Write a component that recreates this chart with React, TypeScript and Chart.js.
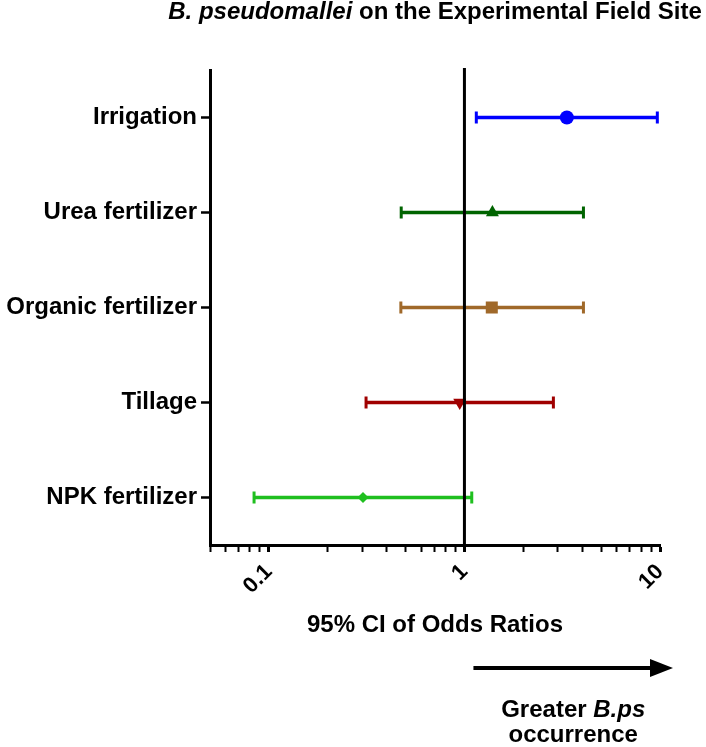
import React, { useEffect, useRef } from 'react';
import { Chart, registerables } from 'chart.js';

Chart.register(...registerables);

const categories = ['Irrigation', 'Urea fertilizer', 'Organic fertilizer', 'Tillage', 'NPK fertilizer'];
const oddsRatios = [3.34, 1.39, 1.38, 0.946, 0.303];
const ciLower = [1.15, 0.475, 0.473, 0.314, 0.084];
const ciUpper = [9.69, 4.06, 4.06, 2.85, 1.09];
const seriesColors = ['#0000ff', '#006400', '#a0692a', '#a00000', '#1fbf1f'];
const markerStyles = ['circle', 'triangle', 'rect', 'triangle', 'rectRot'];
const markerRotations = [0, 0, 0, 180, 0];
const markerRadii = [7, 7.5, 8.5, 7.5, 5.5];

const xTickValues = [0.05, 0.06, 0.07, 0.08, 0.09, 0.1, 0.2, 0.3, 0.4, 0.5, 0.6, 0.7, 0.8, 0.9, 1, 2, 3, 4, 5, 6, 7, 8, 9, 10];
const xLabeledTicks = [0.1, 1, 10];
const xMin = 0.05;
const xMax = 10;
const referenceOR = 1;

const titleItalic = 'B. pseudomallei';
const titleRest = ' on the Experimental Field Site';
const xAxisTitle = '95% CI of Odds Ratios';
const arrowLine1Plain = 'Greater ';
const arrowLine1Italic = 'B.ps';
const arrowLine2 = 'occurrence';

const FONT = "'Liberation Sans', Arial, sans-serif";

const annotationsPlugin = {
  id: 'annotations',
  afterDatasetsDraw(chart: any) {
    const { ctx, chartArea, scales } = chart;
    const x1 = scales.x.getPixelForValue(referenceOR);
    ctx.save();
    ctx.strokeStyle = '#000';
    ctx.lineWidth = 3;
    ctx.beginPath();
    ctx.moveTo(x1, chartArea.top - 2);
    ctx.lineTo(x1, chartArea.bottom);
    ctx.stroke();
    ctx.restore();
  },
  afterDraw(chart: any) {
    const { ctx, chartArea, scales } = chart;
    const cx = (chartArea.left + chartArea.right) / 2;
    ctx.save();
    ctx.fillStyle = '#000';
    ctx.textBaseline = 'alphabetic';
    ctx.textAlign = 'left';

    // Title
    ctx.font = `italic bold 24px ${FONT}`;
    const wI = ctx.measureText(titleItalic).width;
    ctx.font = `bold 24px ${FONT}`;
    const wR = ctx.measureText(titleRest).width;
    const tx = cx - (wI + wR) / 2;
    ctx.font = `italic bold 24px ${FONT}`;
    ctx.fillText(titleItalic, tx, 19);
    ctx.font = `bold 24px ${FONT}`;
    ctx.fillText(titleRest, tx + wI, 19);

    // X axis title
    ctx.textAlign = 'center';
    ctx.font = `bold 24px ${FONT}`;
    ctx.fillText(xAxisTitle, cx, chartArea.bottom + 87);

    // Arrow
    const ax0 = scales.x.getPixelForValue(referenceOR) + 9;
    const ax1 = scales.x.getPixelForValue(xMax) + 13;
    const ay = chartArea.bottom + 123;
    ctx.strokeStyle = '#000';
    ctx.lineWidth = 4;
    ctx.beginPath();
    ctx.moveTo(ax0, ay);
    ctx.lineTo(ax1 - 20, ay);
    ctx.stroke();
    ctx.beginPath();
    ctx.moveTo(ax1, ay);
    ctx.lineTo(ax1 - 23, ay - 9);
    ctx.lineTo(ax1 - 23, ay + 9);
    ctx.closePath();
    ctx.fill();

    const acx = (ax0 + ax1) / 2;
    ctx.textAlign = 'left';
    ctx.font = `bold 24px ${FONT}`;
    const wP = ctx.measureText(arrowLine1Plain).width;
    ctx.font = `italic bold 24px ${FONT}`;
    const wB = ctx.measureText(arrowLine1Italic).width;
    const sx = acx - (wP + wB) / 2;
    ctx.font = `bold 24px ${FONT}`;
    ctx.fillText(arrowLine1Plain, sx, chartArea.bottom + 172);
    ctx.font = `italic bold 24px ${FONT}`;
    ctx.fillText(arrowLine1Italic, sx + wP, chartArea.bottom + 172);
    ctx.textAlign = 'center';
    ctx.font = `bold 24px ${FONT}`;
    ctx.fillText(arrowLine2, acx, chartArea.bottom + 197);
    ctx.restore();
  },
};

export default function App() {
  const canvasRef = useRef<HTMLCanvasElement | null>(null);

  useEffect(() => {
    if (!canvasRef.current) return;

    const markerSets = categories.map((c, i) => ({
      label: c + ' OR',
      data: [{ x: oddsRatios[i], y: c }],
      pointStyle: markerStyles[i],
      rotation: markerRotations[i],
      pointRadius: markerRadii[i],
      backgroundColor: seriesColors[i],
      borderColor: seriesColors[i],
      pointBorderWidth: 0,
      showLine: false,
    }));

    const ciSets = categories.map((c, i) => ({
      label: c + ' CI',
      data: [
        { x: ciLower[i], y: c },
        { x: ciUpper[i], y: c },
      ],
      showLine: true,
      borderColor: seriesColors[i],
      borderWidth: 3.5,
      pointStyle: 'line',
      rotation: 90,
      pointRadius: 6,
      pointBorderWidth: 3,
      pointBorderColor: seriesColors[i],
      backgroundColor: seriesColors[i],
      fill: false,
    }));

    const chart = new Chart(canvasRef.current, {
      type: 'scatter',
      data: { datasets: [...markerSets, ...ciSets] as any },
      options: {
        animation: false,
        responsive: false,
        events: [],
        layout: { padding: { top: 70, right: 46, bottom: 142, left: 0 } },
        plugins: {
          legend: { display: false },
          tooltip: { enabled: false },
          title: { display: false },
        },
        scales: {
          x: {
            type: 'logarithmic',
            position: 'bottom',
            min: xMin,
            max: xMax,
            afterBuildTicks: (s: any) => {
              s.ticks = xTickValues.map((v) => ({ value: v }));
            },
            afterFit: (s: any) => {
              s.height = 60;
              s.paddingLeft = 0;
              s.paddingRight = 0;
            },
            ticks: {
              autoSkip: false,
              minRotation: 45,
              maxRotation: 45,
              padding: 7,
              color: '#000',
              font: { family: FONT, size: 22, weight: 'bold' },
              callback: (v: any) => (xLabeledTicks.includes(Number(v)) ? String(v) : ''),
            },
            grid: {
              drawOnChartArea: false,
              drawTicks: true,
              tickLength: 7,
              tickColor: '#000',
              tickWidth: (ctx: any) => (ctx.tick && xLabeledTicks.includes(ctx.tick.value) ? 3 : 2),
            },
            border: { display: true, color: '#000', width: 3 },
          },
          y: {
            type: 'category',
            position: 'left',
            labels: categories,
            offset: true,
            afterFit: (s: any) => {
              s.width = 210;
              s.paddingTop = 0;
              s.paddingBottom = 0;
            },
            ticks: {
              padding: 4,
              color: '#000',
              font: { family: FONT, size: 24, weight: 'bold' },
            },
            grid: {
              drawOnChartArea: false,
              drawTicks: true,
              tickLength: 9,
              tickColor: '#000',
              tickWidth: 2.5,
            },
            border: { display: true, color: '#000', width: 3 },
          },
        } as any,
      },
      plugins: [annotationsPlugin],
    });

    return () => chart.destroy();
  }, []);

  return (
    <div style={{ position: 'absolute', left: 0, top: 0, width: 706, height: 747, background: '#fff' }}>
      <canvas ref={canvasRef} width={706} height={747} />
    </div>
  );
}
